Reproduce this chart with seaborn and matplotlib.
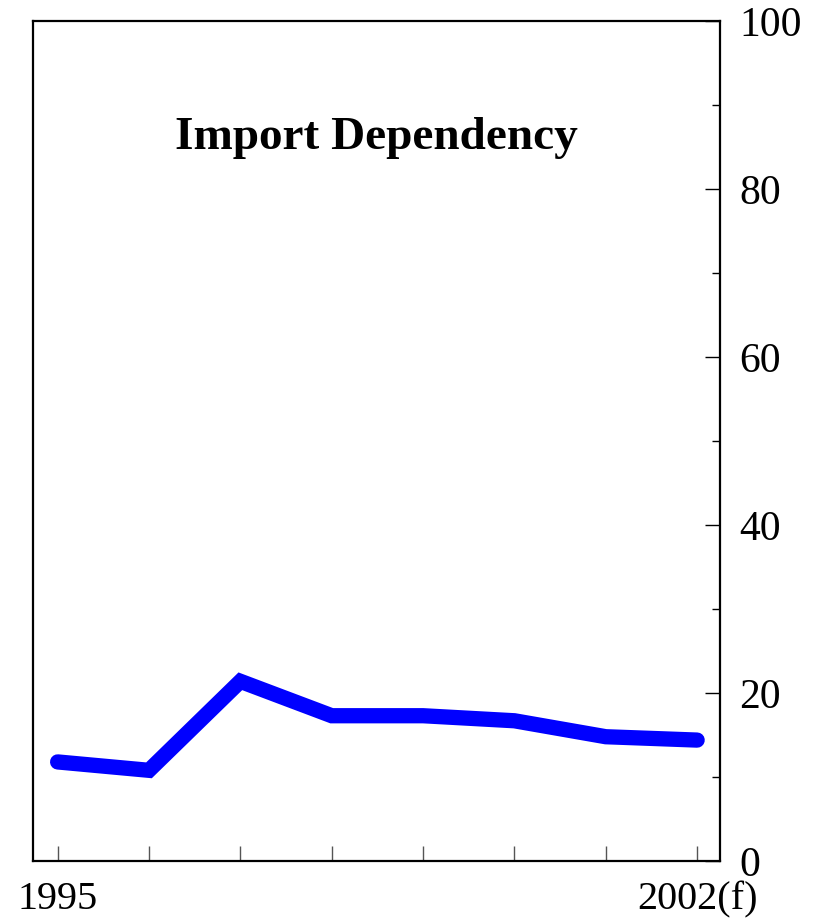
import matplotlib
matplotlib.use("Agg")
import matplotlib.pyplot as plt
import matplotlib.transforms as mtransforms
import seaborn as sns
import pandas as pd
from matplotlib.ticker import MultipleLocator

# Values
years = [1995, 1996, 1997, 1998, 1999, 2000, 2001, 2002]
import_dependency = [11.8, 10.8, 21.4, 17.3, 17.3, 16.7, 14.8, 14.4]
tick_labels = ["1995", "", "", "", "", "", "", "2002(f)"]

df = pd.DataFrame({"Year": years, "Import Dependency": import_dependency})

sns.set_style("ticks")
plt.rcParams['font.family'] = ['Liberation Serif', 'DejaVu Serif']
plt.rcParams['text.color'] = 'black'
plt.rcParams['xtick.color'] = 'black'
plt.rcParams['ytick.color'] = 'black'

fig = plt.figure(figsize=(8.14, 9.2), dpi=100)
ax = fig.add_axes([0.0405, 0.063, 0.844, 0.913])

sns.lineplot(data=df, x="Year", y="Import Dependency", ax=ax,
             color="#0000ff", linewidth=11, solid_capstyle="round",
             solid_joinstyle="miter")

ax.set_xlim(1994.73, 2002.25)
ax.set_ylim(0, 100)
ax.set_xticks(years)
ax.set_xticklabels(tick_labels, fontsize=29)
ax.yaxis.tick_right()
ax.set_yticks([0, 20, 40, 60, 80, 100])
ax.yaxis.set_minor_locator(MultipleLocator(10))
ax.tick_params(axis="y", which="major", direction="in", length=11, width=1,
               labelsize=30, pad=14, color="black", labelcolor="black")
ax.tick_params(axis="y", which="minor", direction="in", length=6, width=1,
               color="black")
ax.tick_params(axis="x", which="major", direction="in", length=11, width=1,
               labelsize=29, pad=14, color="#555555", labelcolor="black")

# nudge the right-hand labels slightly downward, as in the reference
offset = mtransforms.ScaledTranslation(0, -4 / 100, fig.dpi_scale_trans)
for lab in ax.get_yticklabels():
    lab.set_verticalalignment("center")
    lab.set_transform(lab.get_transform() + offset)

for side in ["left", "right", "top", "bottom"]:
    ax.spines[side].set_visible(True)
    ax.spines[side].set_linewidth(1.6)
    ax.spines[side].set_color("black")

ax.set_xlabel("")
ax.set_ylabel("")
ax.grid(False)

ax.text(0.5, 0.862, "Import Dependency", transform=ax.transAxes,
        ha="center", va="center", fontsize=34, fontweight="bold",
        color="black")

fig.savefig("out.png", dpi=100)
